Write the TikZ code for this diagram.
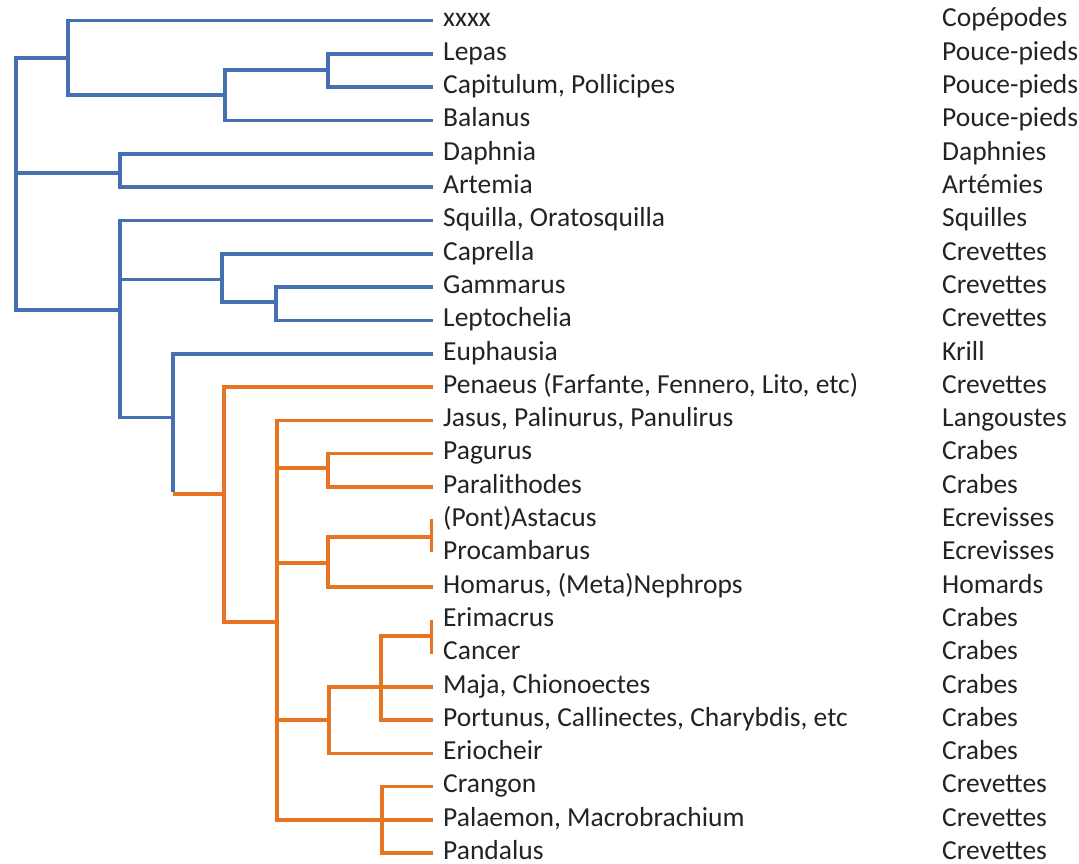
\documentclass[tikz,border=0pt]{standalone}
\usepackage{fontspec}
\setmainfont{Carlito}
\definecolor{tblue}{RGB}{70,112,178}
\definecolor{torange}{RGB}{230,116,32}
\definecolor{ttext}{RGB}{35,35,35}
\begin{document}
\begin{tikzpicture}[x=1pt,y=-1pt,
  bl/.style={draw=tblue,line width=3.6pt},
  orr/.style={draw=torange,line width=3.6pt},
  lab/.style={anchor=base west,inner sep=0pt,text depth=0pt,text=ttext,font=\fontsize{27.5}{31}\selectfont}]
\useasboundingbox (0,0) rectangle (1079,864);
\fill[white] (0,0) rectangle (1079,864);
% leaf ends
\coordinate (e0) at (433,20.7);
\coordinate (e1) at (433,54.0);
\coordinate (e2) at (433,87.3);
\coordinate (e3) at (433,120.6);
\coordinate (e4) at (433,153.9);
\coordinate (e5) at (433,187.2);
\coordinate (e6) at (433,220.5);
\coordinate (e7) at (433,253.8);
\coordinate (e8) at (433,287.1);
\coordinate (e9) at (433,320.4);
\coordinate (e10) at (433,353.7);
\coordinate (e11) at (433,387.0);
\coordinate (e12) at (433,420.3);
\coordinate (e13) at (433,453.6);
\coordinate (e14) at (433,486.9);
\coordinate (e17) at (433,586.8);
\coordinate (e20) at (433,686.7);
\coordinate (e21) at (433,720.0);
\coordinate (e22) at (433,753.3);
\coordinate (e23) at (433,786.6);
\coordinate (e24) at (433,819.9);
\coordinate (e25) at (433,853.2);
% ticks
\coordinate (kAs) at (433,537);
\coordinate (kA1) at (431.5,518.5);
\coordinate (kA2) at (431.5,552);
\coordinate (kEC) at (433,636);
\coordinate (kE1) at (431.5,620);
\coordinate (kE2) at (431.5,654);
% internal nodes
\coordinate (r) at (16,172.7);
\coordinate (nA) at (68,58);
\coordinate (nB) at (225,95);
\coordinate (nL) at (328,70);
\coordinate (nD) at (120,172.7);
\coordinate (nC) at (120,310);
\coordinate (nCap) at (222,279.3);
\coordinate (nG) at (276,301.7);
\coordinate (nE) at (173,417.3);
\coordinate (cE) at (173,494);
\coordinate (nDec) at (224,494);
\coordinate (nP) at (277,622);
\coordinate (nAn) at (328,468);
\coordinate (nAs) at (328,563);
\coordinate (nBr) at (329,720);
\coordinate (nPo) at (381,686.7);
\coordinate (nCar) at (382,819.9);
% blue tree
\draw[bl] (r) |- (nA);
\draw[bl] (r) -- (nD);
\draw[bl] (r) |- (nC);
\draw[bl] (nA) |- (e0);
\draw[bl] (nA) |- (nB);
\draw[bl] (nB) |- (nL);
\draw[bl] (nB) |- (e3);
\draw[bl] (nL) |- (e1);
\draw[bl] (nL) |- (e2);
\draw[bl] (nD) |- (e4);
\draw[bl] (nD) |- (e5);
\draw[bl] (nC) |- (e6);
\draw[bl] (nC) |- (nCap);
\draw[bl] (nC) |- (nE);
\draw[bl] (nCap) |- (e7);
\draw[bl] (nCap) |- (nG);
\draw[bl] (nG) |- (e8);
\draw[bl] (nG) |- (e9);
\draw[bl] (nE) |- (e10);
% orange tree
\draw[orr] (cE) -- (nDec);
\draw[bl] (nE) -- ([yshift=1.8pt]cE);
\draw[orr] (nDec) |- (e11);
\draw[orr] (nDec) |- (nP);
\draw[orr] (nP) |- (e12);
\draw[orr] (nP) |- (nAn);
\draw[orr] (nP) |- (nAs);
\draw[orr] (nP) |- (nBr);
\draw[orr] (nP) |- (e24);
\draw[orr] (nAn) |- (e13);
\draw[orr] (nAn) |- (e14);
\draw[orr] (nAs) |- (kAs);
\draw[orr] (nAs) |- (e17);
\draw[orr] (kA1) -- (kA2);
\draw[orr] (nBr) |- (e20);
\draw[orr] (nBr) |- (e22);
\draw[orr] (nPo) |- (kEC);
\draw[orr] (nPo) |- (e21);
\draw[orr] (kE1) -- (kE2);
\draw[orr] (nCar) |- (e23);
\draw[orr] (nCar) |- (e25);
% genus labels
\node[lab] (t0) at (443,27.0) {xxxx};
\node[lab] (t1) at (443,60.3) {Lepas};
\node[lab] (t2) at (443,93.6) {Capitulum, Pollicipes};
\node[lab] (t3) at (443,126.9) {Balanus};
\node[lab] (t4) at (443,160.2) {Daphnia};
\node[lab] (t5) at (443,193.5) {Artemia};
\node[lab] (t6) at (443,226.8) {Squilla, Oratosquilla};
\node[lab] (t7) at (443,260.1) {Caprella};
\node[lab] (t8) at (443,293.4) {Gammarus};
\node[lab] (t9) at (443,326.7) {Leptochelia};
\node[lab] (t10) at (443,360.0) {Euphausia};
\node[lab] (t11) at (443,393.3) {Penaeus (Farfante, Fennero, Lito, etc)};
\node[lab] (t12) at (443,426.6) {Jasus, Palinurus, Panulirus};
\node[lab] (t13) at (443,459.9) {Pagurus};
\node[lab] (t14) at (443,493.2) {Paralithodes};
\node[lab] (t15) at (443,526.5) {(Pont)Astacus};
\node[lab] (t16) at (443,559.8) {Procambarus};
\node[lab] (t17) at (443,593.1) {Homarus, (Meta)Nephrops};
\node[lab] (t18) at (443,626.4) {Erimacrus};
\node[lab] (t19) at (443,659.7) {Cancer};
\node[lab] (t20) at (443,693.0) {Maja, Chionoectes};
\node[lab] (t21) at (443,726.3) {Portunus, Callinectes, Charybdis, etc};
\node[lab] (t22) at (443,759.6) {Eriocheir};
\node[lab] (t23) at (443,792.9) {Crangon};
\node[lab] (t24) at (443,826.2) {Palaemon, Macrobrachium};
\node[lab] (t25) at (443,859.5) {Pandalus};
% common names
\node[lab] (c0) at (942,27.0) {Copépodes};
\node[lab] (c1) at (942,60.3) {Pouce-pieds};
\node[lab] (c2) at (942,93.6) {Pouce-pieds};
\node[lab] (c3) at (942,126.9) {Pouce-pieds};
\node[lab] (c4) at (942,160.2) {Daphnies};
\node[lab] (c5) at (942,193.5) {Artémies};
\node[lab] (c6) at (942,226.8) {Squilles};
\node[lab] (c7) at (942,260.1) {Crevettes};
\node[lab] (c8) at (942,293.4) {Crevettes};
\node[lab] (c9) at (942,326.7) {Crevettes};
\node[lab] (c10) at (942,360.0) {Krill};
\node[lab] (c11) at (942,393.3) {Crevettes};
\node[lab] (c12) at (942,426.6) {Langoustes};
\node[lab] (c13) at (942,459.9) {Crabes};
\node[lab] (c14) at (942,493.2) {Crabes};
\node[lab] (c15) at (942,526.5) {Ecrevisses};
\node[lab] (c16) at (942,559.8) {Ecrevisses};
\node[lab] (c17) at (942,593.1) {Homards};
\node[lab] (c18) at (942,626.4) {Crabes};
\node[lab] (c19) at (942,659.7) {Crabes};
\node[lab] (c20) at (942,693.0) {Crabes};
\node[lab] (c21) at (942,726.3) {Crabes};
\node[lab] (c22) at (942,759.6) {Crabes};
\node[lab] (c23) at (942,792.9) {Crevettes};
\node[lab] (c24) at (942,826.2) {Crevettes};
\node[lab] (c25) at (942,859.5) {Crevettes};
\end{tikzpicture}
\end{document}
